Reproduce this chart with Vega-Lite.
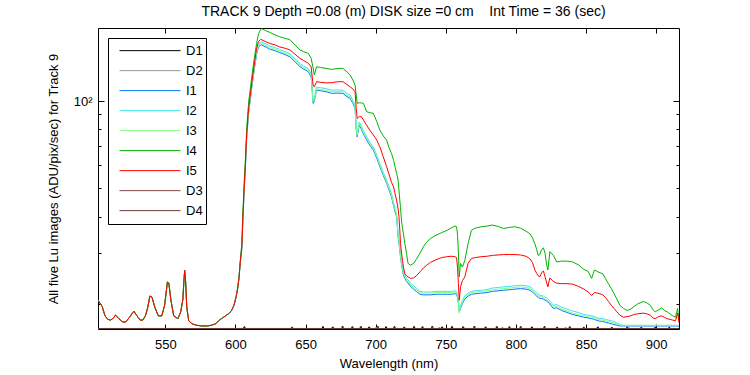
{
"$schema":"https://vega.github.io/schema/vega-lite/v6.json",
"width":581,"height":301,
"autosize":{"type":"none"},
"padding":{"left":98,"top":28,"right":71,"bottom":46},
"background":"white",
"title":{"text":"TRACK 9 Depth =0.08 (m) DISK size =0 cm\u00a0\u00a0\u00a0\u00a0Int Time = 36 (sec)","font":"Liberation Sans","fontSize":14,"fontWeight":"normal","color":"black","anchor":"middle","frame":"group","baseline":"alphabetic","offset":-2,"dx":15},
"config":{
"view":{"stroke":"black","strokeWidth":1},
"font":"Liberation Sans",
"axis":{"domain":false,"grid":false,"labelFont":"Liberation Sans","labelFontSize":13,"labelColor":"black","titleFont":"Liberation Sans","titleFontSize":13,"titleFontWeight":"normal","titleColor":"black","tickColor":"black","tickWidth":1}
},
"layer":[
{
"data":{"values":[
{"w":502,"I1":20.6,"I2":20.6,"I3":20.6,"I4":20.6,"I5":20.6},
{"w":505,"I1":19.6,"I2":19.6,"I3":19.6,"I4":19.6,"I5":19.6},
{"w":507,"I1":18.2,"I2":18.2,"I3":18.2,"I4":18.2,"I5":18.2},
{"w":509,"I1":17.7,"I2":17.7,"I3":17.7,"I4":17.7,"I5":17.7},
{"w":511,"I1":17.6,"I2":17.6,"I3":17.6,"I4":17.6,"I5":17.6},
{"w":513,"I1":17.9,"I2":17.9,"I3":17.9,"I4":17.9,"I5":17.9},
{"w":514.5,"I1":18.3,"I2":18.3,"I3":18.3,"I4":18.3,"I5":18.3},
{"w":516.5,"I1":17.9,"I2":17.9,"I3":17.9,"I4":17.9,"I5":17.9},
{"w":519,"I1":17.4,"I2":17.4,"I3":17.4,"I4":17.4,"I5":17.4},
{"w":521.5,"I1":17.3,"I2":17.3,"I3":17.3,"I4":17.3,"I5":17.3},
{"w":524.5,"I1":18.0,"I2":18.0,"I3":18.0,"I4":18.0,"I5":18.0},
{"w":527.5,"I1":18.9,"I2":18.9,"I3":18.9,"I4":18.9,"I5":18.9},
{"w":529.5,"I1":18.3,"I2":18.3,"I3":18.3,"I4":18.3,"I5":18.3},
{"w":532,"I1":17.6,"I2":17.6,"I3":17.6,"I4":17.6,"I5":17.6},
{"w":534,"I1":17.6,"I2":17.6,"I3":17.6,"I4":17.6,"I5":17.6},
{"w":536,"I1":18.3,"I2":18.3,"I3":18.3,"I4":18.3,"I5":18.3},
{"w":537.5,"I1":19.5,"I2":19.5,"I3":19.5,"I4":19.5,"I5":19.5},
{"w":539,"I1":21.3,"I2":21.3,"I3":21.3,"I4":21.3,"I5":21.3},
{"w":540.5,"I1":21.1,"I2":21.1,"I3":21.1,"I4":21.1,"I5":21.1},
{"w":542.5,"I1":19.5,"I2":19.5,"I3":19.5,"I4":19.5,"I5":19.5},
{"w":545,"I1":18.2,"I2":18.2,"I3":18.2,"I4":18.2,"I5":18.2},
{"w":547.5,"I1":18.2,"I2":18.2,"I3":18.2,"I4":18.2,"I5":18.2},
{"w":549.5,"I1":19.8,"I2":19.8,"I3":19.8,"I4":19.8,"I5":19.8},
{"w":551.5,"I1":23.8,"I2":23.8,"I3":23.8,"I4":23.8,"I5":23.8},
{"w":552.5,"I1":23.6,"I2":23.6,"I3":23.6,"I4":23.6,"I5":23.6},
{"w":554,"I1":20.6,"I2":20.6,"I3":20.6,"I4":20.6,"I5":20.6},
{"w":556,"I1":18.2,"I2":18.2,"I3":18.2,"I4":18.2,"I5":18.2},
{"w":559,"I1":17.8,"I2":17.8,"I3":17.8,"I4":17.8,"I5":17.8},
{"w":561,"I1":18.8,"I2":18.8,"I3":18.8,"I4":18.8,"I5":18.8},
{"w":562.5,"I1":20.7,"I2":20.7,"I3":20.7,"I4":20.7,"I5":20.7},
{"w":563.3,"I1":24.1,"I2":24.1,"I3":24.1,"I4":24.1,"I5":24.1},
{"w":563.8,"I1":26.1,"I2":26.1,"I3":26.1,"I4":26.1,"I5":26.1},
{"w":564.5,"I1":23.8,"I2":23.8,"I3":23.8,"I4":23.8,"I5":23.8},
{"w":565.3,"I1":19.5,"I2":19.5,"I3":19.5,"I4":19.5,"I5":19.5},
{"w":566.7,"I1":17.5,"I2":17.5,"I3":17.5,"I4":17.5,"I5":17.5},
{"w":569,"I1":17.1,"I2":17.1,"I3":17.1,"I4":17.1,"I5":17.1},
{"w":572,"I1":16.9,"I2":16.9,"I3":16.9,"I4":16.9,"I5":16.9},
{"w":576,"I1":16.8,"I2":16.8,"I3":16.8,"I4":16.8,"I5":16.8},
{"w":580,"I1":16.8,"I2":16.8,"I3":16.8,"I4":16.8,"I5":16.8},
{"w":583,"I1":16.9,"I2":16.9,"I3":16.9,"I4":16.9,"I5":16.9},
{"w":586,"I1":17.1,"I2":17.1,"I3":17.1,"I4":17.1,"I5":17.1},
{"w":588,"I1":17.5,"I2":17.5,"I3":17.5,"I4":17.5,"I5":17.5},
{"w":590,"I1":17.8,"I2":17.8,"I3":17.8,"I4":17.8,"I5":17.8},
{"w":593,"I1":18.2,"I2":18.2,"I3":18.2,"I4":18.2,"I5":18.2},
{"w":595,"I1":18.5,"I2":18.5,"I3":18.5,"I4":18.5,"I5":18.5},
{"w":597,"I1":18.9,"I2":18.9,"I3":18.9,"I4":18.9,"I5":18.9},
{"w":599,"I1":19.8,"I2":19.8,"I3":19.8,"I4":19.8,"I5":19.8},
{"w":600.5,"I1":21.2,"I2":21.2,"I3":21.2,"I4":21.2,"I5":21.2},
{"w":601.5,"I1":22.5,"I2":22.5,"I3":22.5,"I4":22.5,"I5":22.5},
{"w":602.5,"I1":24.5,"I2":24.5,"I3":24.5,"I4":24.5,"I5":24.5},
{"w":603.5,"I1":27.8,"I2":28.0,"I3":27.9,"I4":28.4,"I5":28.0},
{"w":604.6,"I1":31.0,"I2":31.8,"I3":31.4,"I4":32.5,"I5":31.5},
{"w":605.2,"I1":37.5,"I2":38.4,"I3":37.9,"I4":40,"I5":38.4},
{"w":606.1,"I1":47.5,"I2":48.7,"I3":48.1,"I4":51,"I5":48.7},
{"w":607.1,"I1":58.5,"I2":60.0,"I3":59.2,"I4":63,"I5":60.2},
{"w":608.0,"I1":74,"I2":75.9,"I3":74.9,"I4":80,"I5":76.3},
{"w":609.4,"I1":91,"I2":93.3,"I3":92.1,"I4":99,"I5":94.4},
{"w":610.9,"I1":104,"I2":106.6,"I3":105.2,"I4":113,"I5":107.7},
{"w":612.4,"I1":118.5,"I2":121.5,"I3":119.9,"I4":129,"I5":122.9},
{"w":613.7,"I1":131,"I2":134.3,"I3":132.6,"I4":143,"I5":136.6},
{"w":615.1,"I1":145,"I2":148.6,"I3":146.7,"I4":158,"I5":151.9},
{"w":616.4,"I1":153,"I2":156.8,"I3":154.8,"I4":170,"I5":160},
{"w":617.9,"I1":156,"I2":159.9,"I3":157.9,"I4":176,"I5":163},
{"w":618.9,"I1":156,"I2":159.9,"I3":157.9,"I4":177.5,"I5":162.5},
{"w":620.4,"I1":154.5,"I2":158.4,"I3":156.4,"I4":176,"I5":161},
{"w":622.4,"I1":153,"I2":156.8,"I3":154.8,"I4":174,"I5":159.5},
{"w":624.4,"I1":151,"I2":154.8,"I3":152.8,"I4":172.5,"I5":158},
{"w":628.4,"I1":149,"I2":152.7,"I3":150.8,"I4":169,"I5":156},
{"w":631.4,"I1":147,"I2":150.7,"I3":148.8,"I4":166.6,"I5":153.7},
{"w":635.4,"I1":144.5,"I2":148.1,"I3":146.2,"I4":164.5,"I5":152},
{"w":638.9,"I1":142,"I2":145.6,"I3":143.7,"I4":162.6,"I5":150},
{"w":642.5,"I1":136.5,"I2":139.9,"I3":138.1,"I4":156,"I5":145},
{"w":646,"I1":131.3,"I2":134.6,"I3":132.9,"I4":150,"I5":140.3},
{"w":648.5,"I1":129,"I2":132.2,"I3":130.5,"I4":148,"I5":138},
{"w":652,"I1":126.2,"I2":129.4,"I3":127.7,"I4":146,"I5":134.9},
{"w":654,"I1":121,"I2":124.0,"I3":122.5,"I4":140.3,"I5":131},
{"w":655.4,"I1":98.2,"I2":100.7,"I3":99.4,"I4":130,"I5":113.5},
{"w":656.3,"I1":100,"I2":102.5,"I3":101.2,"I4":122.9,"I5":112},
{"w":657.8,"I1":109.1,"I2":111.8,"I3":110.4,"I4":131.3,"I5":116.6},
{"w":660.6,"I1":108.5,"I2":111.2,"I3":109.8,"I4":130.5,"I5":116},
{"w":664.6,"I1":107.7,"I2":110.4,"I3":109.0,"I4":129.6,"I5":115.5},
{"w":668.6,"I1":106.3,"I2":109.0,"I3":107.6,"I4":128.5,"I5":115.7},
{"w":672.6,"I1":106.5,"I2":109.2,"I3":107.8,"I4":129.5,"I5":116.5},
{"w":676.6,"I1":106.3,"I2":109.0,"I3":107.6,"I4":129.6,"I5":116.6},
{"w":679.6,"I1":103.5,"I2":106.1,"I3":104.7,"I4":126,"I5":114},
{"w":681.8,"I1":102.2,"I2":104.8,"I3":103.4,"I4":122.9,"I5":112},
{"w":683.8,"I1":98,"I2":100.5,"I3":99.2,"I4":118,"I5":110},
{"w":685.3,"I1":94.4,"I2":96.8,"I3":95.5,"I4":113.5,"I5":107.7},
{"w":686.1,"I1":80,"I2":82.0,"I3":81.0,"I4":105,"I5":95},
{"w":686.8,"I1":75.3,"I2":77.2,"I3":76.2,"I4":98.2,"I5":87.1},
{"w":688.3,"I1":82.6,"I2":84.7,"I3":83.6,"I4":98.7,"I5":88.5},
{"w":689.8,"I1":80,"I2":82.0,"I3":81.0,"I4":98.5,"I5":88.3},
{"w":691.3,"I1":77,"I2":78.9,"I3":77.9,"I4":98.2,"I5":86},
{"w":693.6,"I1":73.4,"I2":75.2,"I3":74.3,"I4":91.9,"I5":82.5},
{"w":695.8,"I1":70.5,"I2":72.3,"I3":71.3,"I4":91.2,"I5":79.4},
{"w":698.3,"I1":67.8,"I2":69.5,"I3":68.6,"I4":90.7,"I5":76.5},
{"w":700.8,"I1":63.5,"I2":65.1,"I3":64.3,"I4":85,"I5":73.4},
{"w":703,"I1":59.4,"I2":60.9,"I3":60.1,"I4":79.4,"I5":69.5},
{"w":705.4,"I1":55.5,"I2":56.9,"I3":56.2,"I4":75.8,"I5":64.3},
{"w":707.8,"I1":52.1,"I2":53.4,"I3":52.7,"I4":73.4,"I5":59.5},
{"w":709.3,"I1":49.8,"I2":51.0,"I3":50.4,"I4":69.5,"I5":56.3},
{"w":711.3,"I1":46.8,"I2":48.0,"I3":47.4,"I4":66.0,"I5":52.5},
{"w":712.8,"I1":43.5,"I2":44.6,"I3":44.0,"I4":62.5,"I5":50.6},
{"w":713.8,"I1":41.5,"I2":42.5,"I3":42.0,"I4":59.4,"I5":48},
{"w":714.9,"I1":40,"I2":41.0,"I3":40.5,"I4":56.5,"I5":45.6},
{"w":716,"I1":34.1,"I2":35.0,"I3":34.5,"I4":53.4,"I5":42.5},
{"w":716.6,"I1":32.5,"I2":33.3,"I3":32.9,"I4":49.5,"I5":40},
{"w":717.2,"I1":30.5,"I2":31.3,"I3":30.9,"I4":45.6,"I5":36},
{"w":717.7,"I1":29.1,"I2":29.8,"I3":29.4,"I4":43,"I5":32.3},
{"w":718.4,"I1":27.5,"I2":28.2,"I3":27.8,"I4":38.9,"I5":30},
{"w":719.1,"I1":26.2,"I2":26.9,"I3":26.5,"I4":36.5,"I5":28.3},
{"w":719.8,"I1":25.2,"I2":25.8,"I3":25.5,"I4":35,"I5":26.8},
{"w":720.8,"I1":24.5,"I2":25.1,"I3":24.8,"I4":32.3,"I5":25.4},
{"w":722,"I1":23.9,"I2":24.5,"I3":24.2,"I4":29.8,"I5":25},
{"w":723.1,"I1":23.6,"I2":24.2,"I3":23.9,"I4":27.6,"I5":24.8},
{"w":724.8,"I1":23,"I2":23.6,"I3":23.3,"I4":27.2,"I5":24.5},
{"w":727,"I1":22.5,"I2":23.1,"I3":22.8,"I4":27.6,"I5":24.6},
{"w":729,"I1":22.1,"I2":22.7,"I3":22.4,"I4":28.5,"I5":25},
{"w":731.6,"I1":21.6,"I2":22.1,"I3":21.9,"I4":29.9,"I5":25.8},
{"w":734,"I1":21.5,"I2":22.0,"I3":21.8,"I4":31.5,"I5":26.6},
{"w":736.4,"I1":21.5,"I2":22.0,"I3":21.8,"I4":32.7,"I5":27.2},
{"w":739,"I1":21.5,"I2":22.0,"I3":21.8,"I4":33.6,"I5":27.8},
{"w":743,"I1":21.6,"I2":22.1,"I3":21.9,"I4":34.5,"I5":28.4},
{"w":747,"I1":21.6,"I2":22.1,"I3":21.9,"I4":35.2,"I5":28.9},
{"w":751,"I1":21.6,"I2":22.1,"I3":21.9,"I4":35.9,"I5":29.1},
{"w":754,"I1":21.6,"I2":22.1,"I3":21.9,"I4":36.6,"I5":29.2},
{"w":756.5,"I1":21.7,"I2":22.2,"I3":22.0,"I4":37.1,"I5":29.1},
{"w":757.7,"I1":21.6,"I2":22.1,"I3":21.9,"I4":36.9,"I5":28.9},
{"w":758.4,"I1":21.0,"I2":21.5,"I3":21.3,"I4":34.5,"I5":26.5},
{"w":759,"I1":20.1,"I2":20.6,"I3":20.3,"I4":30,"I5":23.5},
{"w":759.6,"I1":18.8,"I2":19.0,"I3":18.6,"I4":24.8,"I5":20.6},
{"w":760.5,"I1":19.3,"I2":19.8,"I3":19.5,"I4":27.6,"I5":22.9},
{"w":761.9,"I1":20.1,"I2":20.6,"I3":20.3,"I4":26.8,"I5":24.1},
{"w":763.6,"I1":20.8,"I2":21.3,"I3":21.0,"I4":28.3,"I5":24.8},
{"w":765.9,"I1":21.3,"I2":21.8,"I3":21.6,"I4":32.3,"I5":27.6},
{"w":768.3,"I1":21.6,"I2":22.1,"I3":21.9,"I4":35.9,"I5":28.7},
{"w":771,"I1":21.7,"I2":22.2,"I3":22.0,"I4":36.5,"I5":28.9},
{"w":775.3,"I1":21.8,"I2":22.3,"I3":22.1,"I4":36.9,"I5":29.1},
{"w":779.3,"I1":21.9,"I2":22.4,"I3":22.2,"I4":37.1,"I5":29.2},
{"w":783.3,"I1":22.1,"I2":22.7,"I3":22.4,"I4":37.4,"I5":29.4},
{"w":787.3,"I1":22.2,"I2":22.8,"I3":22.5,"I4":37.0,"I5":29.5},
{"w":791.3,"I1":22.3,"I2":22.9,"I3":22.6,"I4":36.4,"I5":29.6},
{"w":795.3,"I1":22.4,"I2":23.0,"I3":22.7,"I4":36.7,"I5":29.6},
{"w":799.3,"I1":22.5,"I2":23.1,"I3":22.8,"I4":36.9,"I5":29.6},
{"w":803.3,"I1":22.6,"I2":23.2,"I3":22.9,"I4":36.5,"I5":29.5},
{"w":807.3,"I1":22.5,"I2":23.1,"I3":22.8,"I4":35.6,"I5":29.2},
{"w":810,"I1":22.3,"I2":22.9,"I3":22.6,"I4":34.9,"I5":28.6},
{"w":811.8,"I1":22.0,"I2":22.6,"I3":22.3,"I4":33.8,"I5":27.8},
{"w":813.5,"I1":21.6,"I2":22.1,"I3":21.9,"I4":32.3,"I5":26.2},
{"w":814.8,"I1":21.3,"I2":21.8,"I3":21.6,"I4":30.8,"I5":25.5},
{"w":815.9,"I1":21.1,"I2":21.6,"I3":21.4,"I4":29.4,"I5":25.0},
{"w":817.1,"I1":20.9,"I2":21.4,"I3":21.2,"I4":29.6,"I5":24.8},
{"w":818.3,"I1":20.9,"I2":21.4,"I3":21.2,"I4":30.8,"I5":25.6},
{"w":819.6,"I1":20.8,"I2":21.3,"I3":21.0,"I4":31.2,"I5":26.0},
{"w":820.8,"I1":20.6,"I2":21.1,"I3":20.8,"I4":29.9,"I5":24.8},
{"w":821.8,"I1":20.5,"I2":21.0,"I3":20.7,"I4":27.5,"I5":23.8},
{"w":822.8,"I1":20.3,"I2":20.8,"I3":20.5,"I4":26.2,"I5":22.9},
{"w":824.2,"I1":20.0,"I2":20.5,"I3":20.2,"I4":30.3,"I5":24.6},
{"w":826.7,"I1":19.3,"I2":19.8,"I3":19.5,"I4":29.4,"I5":23.9},
{"w":829.1,"I1":19.4,"I2":19.9,"I3":19.6,"I4":27.9,"I5":23.6},
{"w":832.5,"I1":19.0,"I2":19.5,"I3":19.2,"I4":28.1,"I5":23.5},
{"w":836.5,"I1":18.7,"I2":19.2,"I3":18.9,"I4":28.1,"I5":23.5},
{"w":840.5,"I1":18.4,"I2":18.9,"I3":18.6,"I4":27.9,"I5":23.4},
{"w":844.5,"I1":18.2,"I2":18.7,"I3":18.4,"I4":27.3,"I5":23.0},
{"w":848.5,"I1":18.0,"I2":18.4,"I3":18.2,"I4":26.3,"I5":22.5},
{"w":851.5,"I1":17.9,"I2":18.3,"I3":18.1,"I4":25.9,"I5":22.0},
{"w":854,"I1":17.8,"I2":18.2,"I3":18.0,"I4":24.5,"I5":21.4},
{"w":856,"I1":17.7,"I2":18.1,"I3":17.9,"I4":26.2,"I5":21.9},
{"w":858.5,"I1":17.5,"I2":17.9,"I3":17.7,"I4":25.8,"I5":21.8},
{"w":862,"I1":17.4,"I2":17.8,"I3":17.6,"I4":25.4,"I5":21.5},
{"w":864,"I1":17.3,"I2":17.7,"I3":17.5,"I4":24.4,"I5":21.0},
{"w":866,"I1":17.2,"I2":17.6,"I3":17.4,"I4":23.5,"I5":20.4},
{"w":868,"I1":17.1,"I2":17.5,"I3":17.3,"I4":22.6,"I5":19.8},
{"w":870,"I1":17.0,"I2":17.4,"I3":17.2,"I4":21.7,"I5":19.3},
{"w":872,"I1":16.9,"I2":17.2,"I3":17.1,"I4":20.8,"I5":18.8},
{"w":874.1,"I1":16.8,"I2":17.0,"I3":16.9,"I4":19.8,"I5":18.3},
{"w":876.8,"I1":16.8,"I2":16.85,"I3":16.9,"I4":19.3,"I5":18.0},
{"w":879.3,"I1":16.8,"I2":16.85,"I3":16.9,"I4":19.0,"I5":18.1},
{"w":881.8,"I1":16.8,"I2":16.85,"I3":16.9,"I4":19.2,"I5":18.2},
{"w":884.3,"I1":16.8,"I2":16.85,"I3":16.9,"I4":19.6,"I5":18.4},
{"w":886.8,"I1":16.8,"I2":16.85,"I3":16.9,"I4":20.0,"I5":18.5},
{"w":890.8,"I1":16.8,"I2":16.85,"I3":16.9,"I4":20.4,"I5":18.6},
{"w":893.3,"I1":16.8,"I2":16.85,"I3":16.9,"I4":20.2,"I5":18.5},
{"w":895.8,"I1":16.8,"I2":16.85,"I3":16.9,"I4":19.8,"I5":18.3},
{"w":897.8,"I1":16.8,"I2":16.85,"I3":16.9,"I4":19.1,"I5":17.9},
{"w":899.3,"I1":16.8,"I2":16.85,"I3":16.9,"I4":18.8,"I5":17.8},
{"w":901.8,"I1":16.8,"I2":16.85,"I3":16.9,"I4":19.1,"I5":18.1},
{"w":904,"I1":16.8,"I2":16.85,"I3":16.9,"I4":19.4,"I5":18.2},
{"w":905.8,"I1":16.8,"I2":16.85,"I3":16.9,"I4":19.0,"I5":18.0},
{"w":907.8,"I1":16.8,"I2":16.85,"I3":16.9,"I4":18.8,"I5":17.8},
{"w":909.8,"I1":16.8,"I2":16.85,"I3":16.9,"I4":18.5,"I5":17.7},
{"w":911.8,"I1":16.8,"I2":16.85,"I3":16.9,"I4":18.2,"I5":17.6},
{"w":913.8,"I1":16.8,"I2":16.85,"I3":16.9,"I4":18.0,"I5":17.5},
{"w":915.3,"I1":16.8,"I2":16.85,"I3":16.9,"I4":19.3,"I5":18.6},
{"w":916.3,"I1":16.7,"I2":16.8,"I3":16.85,"I4":17.6,"I5":17.2}
]},
"transform":[{"fold":["I1","I2","I3","I4","I5"],"as":["s","v"]}],
"mark":{"type":"line","strokeWidth":1,"clip":true},
"encoding":{
"x":{"field":"w","type":"quantitative","scale":{"domain":[502,916.3],"nice":false,"zero":false},
"axis":{"orient":"bottom","values":[550,600,650,700,750,800,850,900],"format":"d","tickSize":-5,"labelPadding":14,"title":"Wavelength (nm)","titlePadding":6}},
"y":{"field":"v","type":"quantitative","scale":{"type":"log","domain":[16.4,178.5],"nice":false},
"axis":{"orient":"left","values":[20,30,40,50,60,70,80,90,100],"labelExpr":"datum.value == 100 ? '10²' : ''","tickSize":{"condition":{"test":"datum.value == 100","value":-6},"value":-3},"labelPadding":12,"title":"All five Lu images (ADU/pix/sec) for Track 9","titleX":-45,"titleBaseline":"middle"}},
"color":{"field":"s","type":"nominal",
"scale":{"domain":["D1","D2","I1","I2","I3","I4","I5","D3","D4"],"range":["#000000","#999999","#0078ff","#3fe3ee","#80ff80","#00b400","#ff0000","#804646","#6b3c3c"]},
"legend":{"title":null,"orient":"top-left","offset":10,"strokeColor":"black","fillColor":"white","padding":3,"cornerRadius":0,"symbolType":"stroke","symbolSize":3721,"symbolStrokeWidth":1,"clipHeight":19.3,"rowPadding":0,"symbolOffset":8,"labelOffset":5,"labelFont":"Liberation Sans","labelFontSize":13,"labelColor":"black","labelExpr":"datum.label + '\u00a0\u00a0\u00a0\u00a0'"}}
}
},
{
"data":{"values":[
{"s":"D1","w":502,"v":16.45},{"s":"D1","w":606,"v":16.68},{"s":"D1","w":606.8,"v":16.45},{"s":"D1","w":640,"v":16.62},{"s":"D1","w":640.8,"v":16.45},{"s":"D1","w":662,"v":16.7},{"s":"D1","w":662.8,"v":16.45},{"s":"D1","w":669,"v":16.65},{"s":"D1","w":669.8,"v":16.45},{"s":"D1","w":676,"v":16.72},{"s":"D1","w":676.8,"v":16.45},{"s":"D1","w":683,"v":16.68},{"s":"D1","w":683.8,"v":16.45},{"s":"D1","w":689,"v":16.7},{"s":"D1","w":689.8,"v":16.45},{"s":"D1","w":695,"v":16.66},{"s":"D1","w":695.8,"v":16.45},{"s":"D1","w":701,"v":16.72},{"s":"D1","w":701.8,"v":16.45},{"s":"D1","w":707,"v":16.68},{"s":"D1","w":707.8,"v":16.45},{"s":"D1","w":713,"v":16.7},{"s":"D1","w":713.8,"v":16.45},{"s":"D1","w":720,"v":16.64},{"s":"D1","w":720.8,"v":16.45},{"s":"D1","w":727,"v":16.7},{"s":"D1","w":727.8,"v":16.45},{"s":"D1","w":733,"v":16.68},{"s":"D1","w":733.8,"v":16.45},{"s":"D1","w":740,"v":16.72},{"s":"D1","w":740.8,"v":16.45},{"s":"D1","w":747,"v":16.66},{"s":"D1","w":747.8,"v":16.45},{"s":"D1","w":754,"v":16.7},{"s":"D1","w":754.8,"v":16.45},{"s":"D1","w":762,"v":16.68},{"s":"D1","w":762.8,"v":16.45},{"s":"D1","w":770,"v":16.72},{"s":"D1","w":770.8,"v":16.45},{"s":"D1","w":778,"v":16.66},{"s":"D1","w":778.8,"v":16.45},{"s":"D1","w":786,"v":16.7},{"s":"D1","w":786.8,"v":16.45},{"s":"D1","w":795,"v":16.68},{"s":"D1","w":795.8,"v":16.45},{"s":"D1","w":803,"v":16.7},{"s":"D1","w":803.8,"v":16.45},{"s":"D1","w":811,"v":16.66},{"s":"D1","w":811.8,"v":16.45},{"s":"D1","w":820,"v":16.7},{"s":"D1","w":820.8,"v":16.45},{"s":"D1","w":829,"v":16.64},{"s":"D1","w":829.8,"v":16.45},{"s":"D1","w":838,"v":16.68},{"s":"D1","w":838.8,"v":16.45},{"s":"D1","w":848,"v":16.62},{"s":"D1","w":848.8,"v":16.45},{"s":"D1","w":858,"v":16.66},{"s":"D1","w":858.8,"v":16.45},{"s":"D1","w":868,"v":16.6},{"s":"D1","w":868.8,"v":16.45},{"s":"D1","w":879,"v":16.64},{"s":"D1","w":879.8,"v":16.45},{"s":"D1","w":889,"v":16.6},{"s":"D1","w":889.8,"v":16.45},{"s":"D1","w":899,"v":16.62},{"s":"D1","w":899.8,"v":16.45},{"s":"D1","w":909,"v":16.6},{"s":"D1","w":909.8,"v":16.45},{"s":"D1","w":916.3,"v":16.45},
{"s":"D2","w":502,"v":16.45},{"s":"D2","w":700,"v":16.6},{"s":"D2","w":700.8,"v":16.45},{"s":"D2","w":745,"v":16.6},{"s":"D2","w":745.8,"v":16.45},{"s":"D2","w":790,"v":16.6},{"s":"D2","w":790.8,"v":16.45},{"s":"D2","w":835,"v":16.6},{"s":"D2","w":835.8,"v":16.45},{"s":"D2","w":880,"v":16.6},{"s":"D2","w":880.8,"v":16.45},{"s":"D2","w":916.3,"v":16.45},
{"s":"D3","w":502,"v":16.47},{"s":"D3","w":916.3,"v":16.47},
{"s":"D4","w":502,"v":16.46},{"s":"D4","w":916.3,"v":16.46}
]},
"mark":{"type":"line","strokeWidth":1,"clip":true,"interpolate":"step-after"},
"encoding":{
"x":{"field":"w","type":"quantitative","axis":{"orient":"top","values":[550,600,650,700,750,800,850,900],"labels":false,"tickSize":-5,"title":null}},
"y":{"field":"v","type":"quantitative","axis":{"orient":"right","values":[20,30,40,50,60,70,80,90,100],"labels":false,"tickSize":{"condition":{"test":"datum.value == 100","value":-6},"value":-3},"title":null}},
"color":{"field":"s","type":"nominal"}
}
}
],
"resolve":{"axis":{"x":"independent","y":"independent"}}
}
